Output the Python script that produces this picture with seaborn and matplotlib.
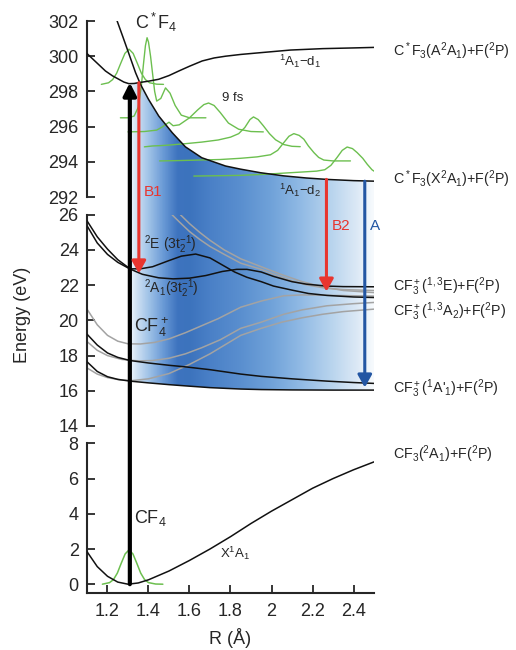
import numpy as np
import matplotlib
matplotlib.use('Agg')
import matplotlib.pyplot as plt
import seaborn as sns
from matplotlib.colors import LinearSegmentedColormap
from matplotlib.patches import Polygon

# ---------------- data ----------------
# top panel: core-excited C*F4 potentials
D1_R = [1.10, 1.15, 1.19, 1.225, 1.255, 1.28, 1.304, 1.33, 1.353, 1.40, 1.45, 1.50, 1.548, 1.60,
        1.662, 1.72, 1.776, 1.85, 1.946, 2.093, 2.25, 2.40, 2.50]
D1_E = [300.15, 299.6, 299.16, 298.88, 298.69, 298.53, 298.44, 298.45, 298.5, 298.58, 298.69, 298.9,
        299.16, 299.43, 299.73, 299.9, 300.0, 300.1, 300.2, 300.35, 300.43, 300.47, 300.5]
D2_R = [1.247, 1.275, 1.304, 1.337, 1.361, 1.40, 1.45, 1.516, 1.58, 1.66, 1.776, 1.85, 1.946, 2.06,
        2.17, 2.27, 2.40, 2.50]
D2_E = [302.0, 301.1, 300.15, 299.06, 298.4, 297.55, 296.6, 295.65, 294.85, 294.23, 293.76, 293.58,
        293.38, 293.2, 293.08, 293.0, 292.93, 292.9]

# wave-packet snapshots on the core-excited surfaces
P0_R = [1.17, 1.205, 1.225, 1.245, 1.265, 1.285, 1.305, 1.325, 1.345, 1.365, 1.385, 1.405, 1.44, 1.473]
P0_E = [298.40, 298.49, 298.67, 299.04, 299.61, 300.16, 300.40, 300.16, 299.61, 299.04, 298.67, 298.49,
        298.41, 298.40]
P1_R = [1.263, 1.30, 1.33, 1.35, 1.365, 1.375, 1.385, 1.393, 1.40, 1.41, 1.42, 1.43, 1.44, 1.46, 1.483,
        1.505, 1.53, 1.56, 1.60, 1.68]
P1_E = [296.5, 296.5, 296.6, 297.1, 298.3, 299.5, 300.6, 301.05, 300.8, 300.0, 299.0, 298.0, 297.45,
        297.6, 298.2, 297.9, 297.2, 296.65, 296.5, 296.5]
P2_R = [1.30, 1.38, 1.44, 1.47, 1.50, 1.52, 1.55, 1.60, 1.64, 1.67, 1.693, 1.72, 1.75, 1.79, 1.84,
        1.90, 1.96]
P2_E = [295.7, 295.72, 295.8, 296.0, 296.25, 296.05, 296.1, 296.5, 296.95, 297.25, 297.34, 297.2,
        296.8, 296.2, 295.85, 295.72, 295.7]
P3_R = [1.38, 1.42, 1.46, 1.50, 1.58, 1.66, 1.74, 1.80, 1.84, 1.87, 1.895, 1.912, 1.935, 1.96, 1.99,
        2.02, 2.06, 2.10, 2.14]
P3_E = [294.85, 294.9, 294.92, 294.95, 295.03, 295.12, 295.24, 295.4, 295.6, 295.95, 296.4, 296.55,
        296.4, 296.05, 295.6, 295.25, 294.98, 294.88, 294.86]
P4_R = [1.454, 1.55, 1.65, 1.75, 1.85, 1.93, 1.995, 2.03, 2.06, 2.085, 2.109, 2.135, 2.158, 2.18,
        2.207, 2.23, 2.255, 2.30, 2.385]
P4_E = [294.05, 294.07, 294.1, 294.13, 294.2, 294.28, 294.4, 294.65, 295.09, 295.45, 295.6, 295.5,
        295.28, 294.9, 294.52, 294.25, 294.1, 294.05, 294.05]
P5_R = [1.621, 1.75, 1.85, 1.95, 2.05, 2.15, 2.22, 2.26, 2.29, 2.32, 2.345, 2.369, 2.395, 2.418,
        2.445, 2.467, 2.49, 2.50]
P5_E = [293.19, 293.21, 293.23, 293.28, 293.35, 293.42, 293.47, 293.55, 293.8, 294.25, 294.65, 294.84,
        294.75, 294.52, 294.2, 293.86, 293.55, 293.47]

# middle panel: CF4+ potentials
A2E_R = [1.10, 1.15, 1.20, 1.25, 1.31, 1.36, 1.42, 1.50, 1.56, 1.63, 1.70, 1.76, 1.82, 1.88, 1.95,
         2.01, 2.10, 2.18, 2.27, 2.40, 2.50]
A2E_E = [25.66, 24.75, 24.05, 23.45, 22.93, 22.93, 23.05, 23.4, 23.65, 23.77, 23.55, 23.15, 22.75,
         22.45, 22.2, 21.95, 21.72, 21.53, 21.42, 21.33, 21.3]
A2A1_R = [1.10, 1.15, 1.20, 1.25, 1.31, 1.37, 1.45, 1.52, 1.60, 1.68, 1.76, 1.83, 1.88, 1.95, 2.01,
          2.10, 2.17, 2.27, 2.35, 2.50]
A2A1_E = [25.38, 24.4, 23.75, 23.3, 22.92, 22.62, 22.42, 22.36, 22.4, 22.55, 22.78, 22.9, 22.9,
          22.75, 22.5, 22.2, 22.06, 21.95, 21.92, 21.91]
M3_R = [1.10, 1.15, 1.20, 1.25, 1.31, 1.40, 1.50, 1.58, 1.70, 1.85, 1.95, 2.10, 2.27, 2.40, 2.50]
M3_E = [19.22, 18.6, 18.15, 17.9, 17.72, 17.58, 17.45, 17.36, 17.2, 16.95, 16.82, 16.68, 16.55, 16.47,
        16.42]
M4_R = [1.10, 1.15, 1.20, 1.25, 1.31, 1.40, 1.50, 1.58, 1.70, 1.85, 1.95, 2.10, 2.30, 2.50]
M4_E = [17.65, 17.1, 16.8, 16.65, 16.55, 16.45, 16.35, 16.28, 16.18, 16.1, 16.07, 16.05, 16.04, 16.04]
G1_R = [1.10, 1.15, 1.20, 1.25, 1.30, 1.36, 1.43, 1.50, 1.58, 1.66, 1.74, 1.85, 1.95, 2.06, 2.15,
        2.30, 2.50]
G1_E = [20.64, 19.75, 19.15, 18.82, 18.67, 18.66, 18.75, 18.95, 19.3, 19.7, 20.1, 20.75, 21.1, 21.4,
        21.45, 21.42, 21.38]
G2_R = [1.10, 1.15, 1.20, 1.27, 1.35, 1.42, 1.50, 1.58, 1.66, 1.75, 1.85, 1.95, 2.06, 2.15, 2.27,
        2.40, 2.50]
G2_E = [18.8, 18.3, 18.0, 17.78, 17.7, 17.72, 17.85, 18.1, 18.45, 18.9, 19.55, 19.9, 20.35, 20.6,
        20.83, 20.95, 21.02]
G3_R = [1.10, 1.15, 1.20, 1.26, 1.32, 1.40, 1.50, 1.60, 1.70, 1.80, 1.85, 1.95, 2.05, 2.15, 2.25,
        2.35, 2.50]
G3_E = [17.3, 16.95, 16.75, 16.62, 16.58, 16.68, 16.98, 17.5, 18.1, 18.8, 19.15, 19.55, 19.9, 20.15,
        20.35, 20.5, 20.64]
G4_R = [1.515, 1.55, 1.60, 1.65, 1.70, 1.77, 1.85, 1.95, 2.01, 2.10, 2.17, 2.27, 2.35, 2.50]
G4_E = [26.0, 25.6, 25.05, 24.6, 24.2, 23.75, 23.25, 22.9, 22.63, 22.25, 22.02, 21.82, 21.75, 21.7]
G5_R = [1.556, 1.60, 1.65, 1.70, 1.77, 1.85, 1.95, 2.05, 2.15, 2.25, 2.35, 2.50]
G5_E = [26.0, 25.5, 25.0, 24.55, 24.0, 23.5, 23.05, 22.6, 22.2, 21.9, 21.7, 21.58]

# bottom panel: ground state CF4
X_R = [1.10, 1.15, 1.20, 1.25, 1.30, 1.35, 1.40, 1.50, 1.60, 1.70, 1.80, 1.90, 2.00, 2.10, 2.20,
       2.30, 2.40, 2.50]
X_E = [1.85, 1.0, 0.45, 0.12, 0.0, 0.07, 0.25, 0.75, 1.35, 2.0, 2.7, 3.45, 4.15, 4.8, 5.45, 6.0,
       6.5, 6.95]
GP_R = [1.175, 1.21, 1.229, 1.248, 1.267, 1.286, 1.305, 1.324, 1.343, 1.362, 1.381, 1.40, 1.435, 1.47]
GP_E = [0.0, 0.09, 0.26, 0.63, 1.19, 1.72, 1.95, 1.72, 1.19, 0.63, 0.26, 0.09, 0.01, 0.0]

# transitions (R, start energy, end energy)
PUMP = (1.309, 0.0, 298.5)
B1 = (1.353, 298.5, 22.67)
B2 = (2.268, 293.0, 21.64)
A_EM = (2.455, 292.9, 16.19)

X_TICKS = [1.2, 1.4, 1.6, 1.8, 2.0, 2.2, 2.4]
X_TICKLABELS = ['1.2', '1.4', '1.6', '1.8', '2', '2.2', '2.4']

# gradient of the blue shading (R, colour)
GRAD = [(1.31, '#eef5fc'), (1.34, '#cfe1f3'), (1.40, '#9fc2e7'), (1.47, '#6a9ad6'),
        (1.54, '#3e74bf'), (1.60, '#3c73bd'), (1.70, '#4a80c7'), (1.85, '#5a8fcf'),
        (2.00, '#70a2d9'), (2.15, '#92bbe5'), (2.30, '#bad5ee'), (2.42, '#dce9f6'),
        (2.50, '#f7fafd')]

# ---------------- style ----------------
sns.set_style('ticks')
plt.rcParams['font.family'] = ['Liberation Sans', 'DejaVu Sans']
plt.rcParams['mathtext.fontset'] = 'custom'
plt.rcParams['mathtext.rm'] = 'Liberation Sans'
plt.rcParams['mathtext.it'] = 'Liberation Sans:italic'
plt.rcParams['mathtext.bf'] = 'Liberation Sans:bold'
plt.rcParams['mathtext.default'] = 'rm'

W, H = 516, 650
fig = plt.figure(figsize=(W / 100, H / 100), dpi=100)
L = 87 / W
WD = 287 / W
s = 17.6 / H
b_bot = 1 - 593 / H
b_mid = 1 - 426 / H
b_top = 1 - 197 / H
ax_bot = fig.add_axes([L, b_bot, WD, 8.5 * s])
ax_mid = fig.add_axes([L, b_mid, WD, 12 * s])
ax_top = fig.add_axes([L, b_top, WD, 10 * s])
bg_h = b_top + 10 * s - b_mid
axbg = fig.add_axes([L, b_mid, WD, bg_h])
axbg.set_zorder(0)
ax_mid.set_zorder(1)
ax_bot.set_zorder(1)
ax_top.set_zorder(2)
for ax in (ax_top, ax_mid, ax_bot):
    ax.set_facecolor('none')

BLACK = '#111111'
GREEN = '#6cbf4f'
GRAY = '#a3a3a3'
RED = '#e8352f'
BLUE = '#2356a3'


def line(ax, x, y, color, lw, z=2):
    sns.lineplot(x=x, y=y, ax=ax, color=color, lw=lw, sort=False, estimator=None, zorder=z)


# ---------------- gradient shading spanning the top and middle panels ----------------
bg_top = 14 + bg_h / s
off = 14 + (b_top - b_mid) / s - 292
top_pts = [(1.31, 298.45 + off), (1.353, 298.5 + off)] + \
          [(r, e + off) for r, e in zip(D2_R, D2_E) if r >= 1.361]
bot_pts = [(r, e) for r, e in zip(M4_R, M4_E) if r >= 1.31][::-1]
verts = top_pts + bot_pts
cmap = LinearSegmentedColormap.from_list(
    'shade', [((r - GRAD[0][0]) / (GRAD[-1][0] - GRAD[0][0]), c) for r, c in GRAD])
im = axbg.imshow(np.linspace(0, 1, 600)[None, :], extent=[1.31, 2.5, 14, bg_top],
                 aspect='auto', cmap=cmap, origin='lower', zorder=0, interpolation='bilinear')
poly = Polygon(verts, closed=True, transform=axbg.transData, facecolor='none', edgecolor='none')
axbg.add_patch(poly)
im.set_clip_path(poly)
axbg.set_xlim(1.1, 2.5)
axbg.set_ylim(14, bg_top)
axbg.axis('off')

# ---------------- top panel ----------------
for pr, pe in ((P0_R, P0_E), (P1_R, P1_E), (P2_R, P2_E), (P3_R, P3_E), (P4_R, P4_E), (P5_R, P5_E)):
    line(ax_top, pr, pe, GREEN, 1.0, z=2)
line(ax_top, D1_R, D1_E, BLACK, 1.1, z=3)
line(ax_top, D2_R, D2_E, BLACK, 1.1, z=3)

# ---------------- middle panel ----------------
for gr, ge in ((G1_R, G1_E), (G2_R, G2_E), (G3_R, G3_E), (G4_R, G4_E), (G5_R, G5_E)):
    line(ax_mid, gr, ge, GRAY, 1.1, z=2)
for mr, me in ((A2E_R, A2E_E), (A2A1_R, A2A1_E), (M3_R, M3_E), (M4_R, M4_E)):
    line(ax_mid, mr, me, BLACK, 1.1, z=3)

# ---------------- bottom panel ----------------
line(ax_bot, GP_R, GP_E, GREEN, 1.1, z=2)
line(ax_bot, X_R, X_E, BLACK, 1.1, z=3)

# ---------------- axes ----------------
for ax, lim, ticks in ((ax_top, (292, 302), range(292, 303, 2)),
                       (ax_mid, (14, 26), range(14, 27, 2)),
                       (ax_bot, (-0.5, 8), range(0, 9, 2))):
    ax.set_xlim(1.1, 2.5)
    ax.set_ylim(*lim)
    ax.set_yticks(list(ticks))
    ax.tick_params(axis='y', direction='in', length=6, width=1.3, labelsize=13, pad=6)
    ax.spines['left'].set_linewidth(1.5)
    ax.spines['right'].set_visible(False)
    ax.spines['top'].set_visible(False)
    ax.set_xlabel('')
    ax.set_ylabel('')
for ax in (ax_top, ax_mid):
    ax.spines['bottom'].set_visible(False)
    ax.tick_params(axis='x', bottom=False, labelbottom=False)
ax_bot.spines['bottom'].set_linewidth(1.5)
ax_bot.set_xticks(X_TICKS)
ax_bot.set_xticklabels(X_TICKLABELS)
ax_bot.tick_params(axis='x', direction='in', length=6, width=1.3, labelsize=13, pad=7)
ax_bot.set_xlabel('R (Å)', fontsize=13, labelpad=6)
fig.text(0.043, 0.515, 'Energy (eV)', rotation=90, va='center', ha='center', fontsize=13)

# ---------------- arrows ----------------
ax_top.annotate('', xy=(PUMP[0], PUMP[2]), xycoords='data', xytext=(PUMP[0], PUMP[1]),
                textcoords=ax_bot.transData, annotation_clip=False,
                arrowprops=dict(arrowstyle='-|>,head_length=0.75,head_width=0.38', color='black',
                                lw=3.0, shrinkA=0, shrinkB=0, mutation_scale=10))
for (r, e0, e1), col in ((B1, RED), (B2, RED), (A_EM, BLUE)):
    ax_top.annotate('', xy=(r, e1), xycoords=ax_mid.transData, xytext=(r, e0),
                    textcoords='data', annotation_clip=False,
                    arrowprops=dict(arrowstyle='-|>,head_length=0.75,head_width=0.42', color=col,
                                    lw=2.2, shrinkA=0, shrinkB=0, mutation_scale=10))

# ---------------- labels ----------------
ax_top.text(1.332, 301.55, r'C$^*$F$_4$', fontsize=13, ha='left', va='baseline')
ax_top.text(1.759, 297.45, '9 fs', fontsize=9.5, ha='left', va='baseline')
ax_top.text(2.036, 299.44, r'$^1$A$_1$' + '\u2212' + r'd$_1$', fontsize=9.5, ha='left', va='baseline')
ax_top.text(2.036, 292.1, r'$^1$A$_1$' + '\u2212' + r'd$_2$', fontsize=9.5, ha='left', va='baseline')
ax_top.text(1.377, 292.06, 'B1', fontsize=11, color=RED, ha='left', va='baseline')
ax_mid.text(2.296, 25.15, 'B2', fontsize=11, color=RED, ha='left', va='baseline')
ax_mid.text(2.48, 25.15, 'A', fontsize=11, color=BLUE, ha='left', va='baseline')
ax_mid.text(1.377, 24.07, r'$^2$E (3t$_2^{-1}$)', fontsize=10, ha='left', va='baseline')
ax_mid.text(1.377, 21.55, r'$^2$A$_1$(3t$_2^{-1}$)', fontsize=10, ha='left', va='baseline')
ax_mid.text(1.328, 19.35, r'CF$_4^+$', fontsize=13, ha='left', va='baseline')
ax_bot.text(1.328, 3.45, r'CF$_4$', fontsize=13, ha='left', va='baseline')
ax_bot.text(1.751, 1.47, r'X$^1$A$_1$', fontsize=9.5, ha='left', va='baseline')

RX = 2.595
RFS = 10.3
ax_top.text(RX, 300.0, r'C$^*$F$_3$(A$^2$A$_1$)+F($^2$P)', fontsize=RFS, ha='left', va='baseline')
ax_top.text(RX, 292.74, r'C$^*$F$_3$(X$^2$A$_1$)+F($^2$P)', fontsize=RFS, ha='left', va='baseline')
ax_mid.text(RX, 21.68, r'CF$_3^+$($^{1,3}$E)+F($^2$P)', fontsize=RFS, ha='left', va='baseline')
ax_mid.text(RX, 20.26, r'CF$_3^+$($^{1,3}$A$_2$)+F($^2$P)', fontsize=RFS, ha='left', va='baseline')
ax_mid.text(RX, 15.89, r"CF$_3^+$($^1$A'$_1$)+F($^2$P)", fontsize=RFS, ha='left', va='baseline')
ax_bot.text(RX, 7.09, r'CF$_3$($^2$A$_1$)+F($^2$P)', fontsize=RFS, ha='left', va='baseline')

fig.savefig('out.png', dpi=100)
